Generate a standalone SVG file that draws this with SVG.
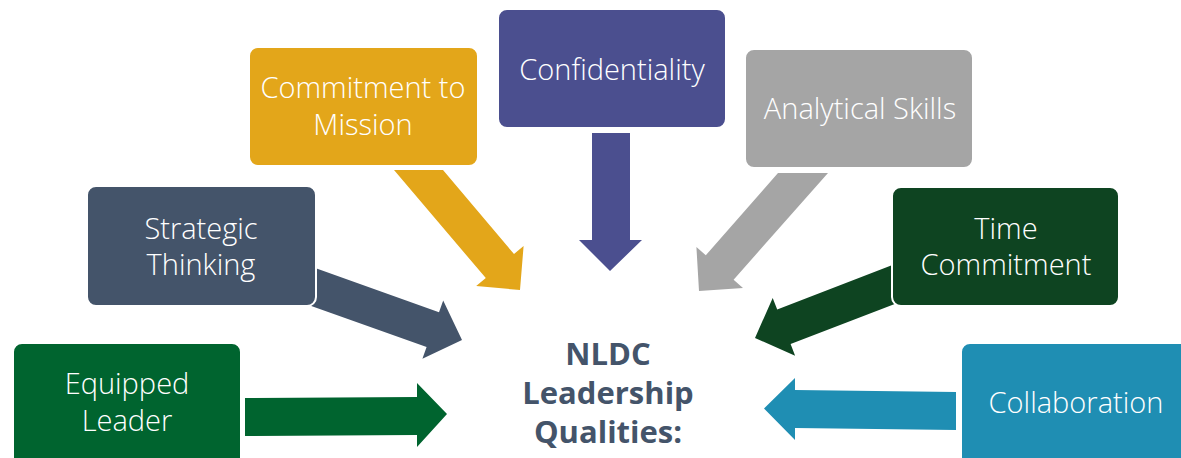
<svg xmlns="http://www.w3.org/2000/svg" width="1181" height="458" viewBox="0 0 1181 458">
<style>
.box{stroke:#fff;stroke-width:2}
.t{font-family:"Open Sans","Liberation Sans",sans-serif;font-weight:300;font-size:29px;fill:#fff;text-anchor:middle}
.c{font-family:"Open Sans","Liberation Sans",sans-serif;font-weight:700;font-size:31px;fill:#44546A;text-anchor:middle}
</style>
<rect width="1181" height="458" fill="#fff"/>
<g id="connectors">
<polygon fill="#00642F" points="245,398 417,397 417,383 447,414 417,447 417,435 245,436"/>
<polygon fill="#44546A" points="308.2,265.6 439,312.2 443.2,300.4 462,340 422.4,358.8 426.6,347 295.8,300.4"/>
<polygon fill="#E3A61A" points="443,170 514,254 523.6,246 520,290 476.2,286.1 485.8,278.1 394,170"/>
<polygon fill="#4B4F8F" points="592,133 630,133 630,240 642,240 610,271 579,240 592,240"/>
<polygon fill="#A5A5A5" points="778,173 828,173 733.6,279.7 743,288 699,291 696.4,247 705.8,255.3"/>
<polygon fill="#0E4421" points="897.6,263.1 777.2,309.5 772.7,297.9 755,338 795.1,355.7 790.6,344.1 911,297.7"/>
<polygon fill="#1F8EB3" points="956,392 795,390 795,378 764,408.5 795,440 795,428 956,430"/>
</g>
<g id="equipped-leader">
<rect class="box" x="13" y="343" width="228" height="130" rx="9" fill="#00642F"/>
<text class="t" x="127" y="394">Equipped</text>
<text class="t" x="127" y="431">Leader</text>
</g>
<g id="strategic-thinking">
<rect class="box" x="87" y="186" width="229" height="120" rx="9" fill="#44546A"/>
<text class="t" x="201" y="239">Strategic</text>
<text class="t" x="201" y="275">Thinking</text>
</g>
<g id="commitment-to-mission">
<rect class="box" x="249" y="47" width="229" height="119" rx="9" fill="#E3A61A"/>
<text class="t" x="363" y="98">Commitment to</text>
<text class="t" x="363" y="135">Mission</text>
</g>
<g id="confidentiality">
<rect class="box" x="498" y="9" width="228" height="119" rx="9" fill="#4B4F8F"/>
<text class="t" x="612" y="80">Confidentiality</text>
</g>
<g id="analytical-skills">
<rect class="box" x="745" y="49" width="228" height="119" rx="9" fill="#A5A5A5"/>
<text class="t" x="860" y="119">Analytical Skills</text>
</g>
<g id="time-commitment">
<rect class="box" x="892" y="187" width="227" height="119" rx="9" fill="#0E4421"/>
<text class="t" x="1006" y="239">Time</text>
<text class="t" x="1006" y="275">Commitment</text>
</g>
<g id="collaboration">
<rect class="box" x="961" y="343" width="240" height="130" rx="9" fill="#1F8EB3"/>
<text class="t" x="1076" y="413">Collaboration</text>
</g>
<g id="center-title">
<text class="c" x="608" y="365">NLDC</text>
<text class="c" x="608" y="404">Leadership</text>
<text class="c" x="608" y="443">Qualities:</text>
</g>
</svg>
